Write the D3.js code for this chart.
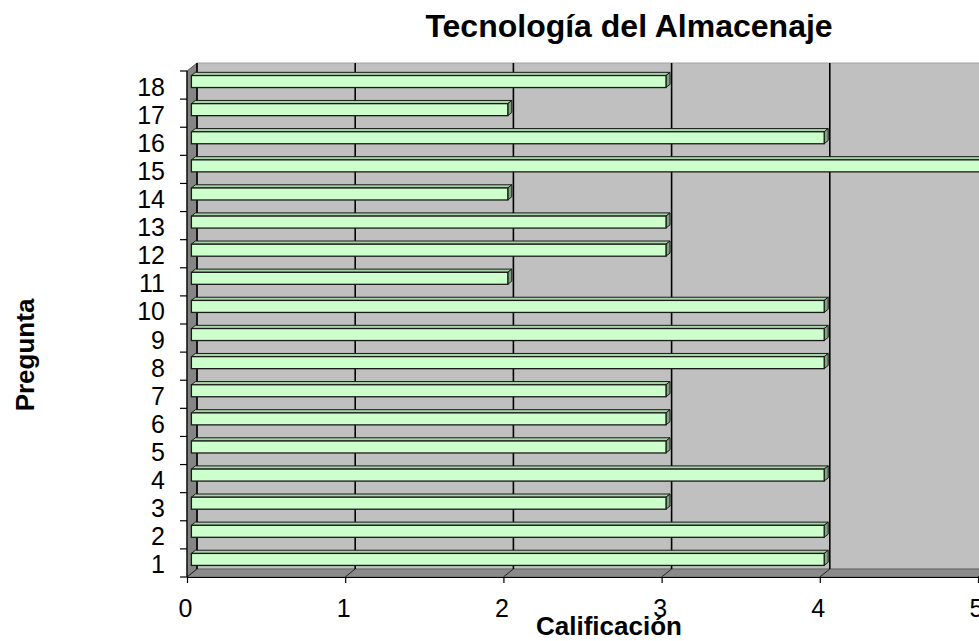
<!DOCTYPE html>
<html>
<head>
<meta charset="utf-8">
<script src="https://cdn.jsdelivr.net/npm/d3@7"></script>
<style>
  html, body { margin: 0; padding: 0; background: #fff; }
  svg { display: block; }
  text { font-family: "Liberation Sans", Arial, sans-serif; fill: #000; }
</style>
</head>
<body>
<svg id="chart" width="979" height="641"></svg>
<script>
const categories = ["1","2","3","4","5","6","7","8","9","10","11","12","13","14","15","16","17","18"];
const values = [4,4,3,4,3,3,3,4,4,4,2,3,3,2,5,4,2,3];
const xTicks = [0,1,2,3,4,5];
const chartTitle = "Tecnología del Almacenaje";
const xTitle = "Calificación";
const yTitle = "Pregunta";

const W = 979, H = 641;
const X0 = 187, X1 = 978, YB = 577, YT = 71;
const DX = 10, DY = -8;
const F0 = 0.44, F1 = 0.84;

const svg = d3.select("#chart");
const x = d3.scaleLinear().domain([0, 5]).range([X0, X1]);
const y = d3.scaleBand().domain(categories).range([YB, YT]).padding(0);
const bw = y.bandwidth();

// back wall
svg.append("polygon")
  .attr("points", [[x(0)+DX, YB+DY],[x(5)+DX, YB+DY],[x(5)+DX, YT+DY],[x(0)+DX, YT+DY]].join(" "))
  .attr("fill", "#c0c0c0").attr("stroke", "#a0a0a0").attr("stroke-width", 1);
// left wall
svg.append("polygon")
  .attr("points", [[x(0), YB],[x(0)+DX, YB+DY],[x(0)+DX, YT+DY],[x(0), YT]].join(" "))
  .attr("fill", "#858585").attr("stroke", "#555").attr("stroke-width", 1);
// floor
svg.append("polygon")
  .attr("points", [[x(0), YB],[x(5), YB],[x(5)+DX, YB+DY],[x(0)+DX, YB+DY]].join(" "))
  .attr("fill", "#8a8a8a").attr("stroke", "#666").attr("stroke-width", 1);

// back wall gridlines
svg.append("g").selectAll("line").data(xTicks.slice(0, 5)).join("line")
  .attr("x1", d => x(d)+DX).attr("x2", d => x(d)+DX)
  .attr("y1", YB+DY).attr("y2", YT+DY)
  .attr("stroke", "#000").attr("stroke-width", 1.6);
// floor gridlines
svg.append("g").selectAll("line").data(xTicks).join("line")
  .attr("x1", d => x(d)).attr("x2", d => x(d)+DX)
  .attr("y1", YB).attr("y2", YB+DY)
  .attr("stroke", "#222").attr("stroke-width", 1);

// bars (top to bottom so lower ones are drawn over)
const data = categories.map((c, i) => ({c, v: values[i]})).reverse();
const barH = 12;
const ddx = DX*(F1-F0), ddy = DY*(F1-F0);
const bars = svg.append("g").selectAll("g").data(data).join("g");
bars.each(function(d) {
  const g = d3.select(this);
  const xl = x(0) + DX*F0, xr = x(d.v) + DX*F0;
  const cy = y(d.c) + bw/2 + DY*F0;
  const yt = cy - barH/2, yb = cy + barH/2;
  g.append("polygon")
    .attr("points", [[xl, yt],[xr, yt],[xr+ddx, yt+ddy],[xl+ddx, yt+ddy]].join(" "))
    .attr("fill", "#a6d4a6").attr("stroke", "#1a1a1a").attr("stroke-width", 1);
  g.append("polygon")
    .attr("points", [[xr, yt],[xr+ddx, yt+ddy],[xr+ddx, yb+ddy],[xr, yb]].join(" "))
    .attr("fill", "#7fa57f").attr("stroke", "#1a1a1a").attr("stroke-width", 1);
  g.append("rect")
    .attr("x", xl).attr("y", yt).attr("width", xr - xl).attr("height", barH)
    .attr("fill", "#ccffcc").attr("stroke", "#1a1a1a").attr("stroke-width", 1.3);
});

// y axis
const yAxis = svg.append("g").attr("transform", `translate(${X0},0)`)
  .call(d3.axisLeft(y).tickSize(0).tickPadding(22));
yAxis.select(".domain").remove();
yAxis.selectAll("text").attr("font-size", 25).attr("dy", "0.42em")
  .style("font-family", '"Liberation Sans", Arial, sans-serif');
svg.append("line").attr("x1", X0).attr("x2", X0).attr("y1", YT).attr("y2", YB)
  .attr("stroke", "#000").attr("stroke-width", 1.2);
svg.append("g").selectAll("line").data(categories).join("line")
  .attr("x1", X0 - 7).attr("x2", X0)
  .attr("y1", d => y(d)).attr("y2", d => y(d))
  .attr("stroke", "#000").attr("stroke-width", 1.2);
svg.append("line").attr("x1", X0 - 7).attr("x2", X0).attr("y1", YB).attr("y2", YB)
  .attr("stroke", "#000").attr("stroke-width", 1.2);

// x axis
const xAxis = svg.append("g").attr("transform", `translate(0,${YB})`)
  .call(d3.axisBottom(x).tickValues(xTicks).tickSize(6).tickSizeOuter(0).tickFormat(d3.format("d")));
xAxis.select(".domain").attr("stroke", "#000").attr("stroke-width", 1.2);
xAxis.selectAll(".tick line").attr("stroke", "#000").attr("stroke-width", 1.2);
xAxis.selectAll("text").attr("font-size", 25).attr("y", 22).attr("x", -2)
  .style("font-family", '"Liberation Sans", Arial, sans-serif');

// titles
svg.append("text").attr("x", 629).attr("y", 37).attr("text-anchor", "middle")
  .attr("font-size", 32).attr("font-weight", "bold").text(chartTitle);
svg.append("text").attr("x", 609).attr("y", 635).attr("text-anchor", "middle")
  .attr("font-size", 26).attr("font-weight", "bold").text(xTitle);
svg.append("text").attr("transform", "translate(34,355) rotate(-90)").attr("text-anchor", "middle")
  .attr("font-size", 26).attr("font-weight", "bold").text(yTitle);
</script>
</body>
</html>
